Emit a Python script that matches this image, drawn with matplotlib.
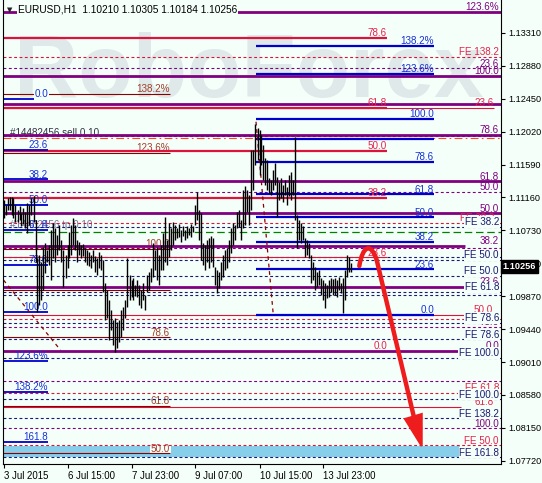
import numpy as np
import matplotlib.pyplot as plt
from matplotlib.patches import Polygon, PathPatch, Rectangle
from matplotlib.path import Path
from matplotlib.transforms import blended_transform_factory

plt.rcParams['font.family'] = ['Liberation Sans', 'DejaVu Sans']

# EURUSD H1 bars (high / low), 3 Jul 2015 .. 14 Jul 2015
bar_high = [
    1.1113, 1.1106, 1.1115, 1.1117, 1.1117, 1.1115, 1.1106, 1.1100, 1.1105, 1.1096,
    1.1102, 1.1097, 1.1109, 1.1106, 1.1115, 1.1118, 1.1087, 1.1037, 1.1041, 1.1032,
    1.1051, 1.1056, 1.1047, 1.1054, 1.1074, 1.1083, 1.1076, 1.1067, 1.1080, 1.1060,
    1.1047, 1.1041, 1.1054, 1.1071, 1.1080, 1.1089, 1.1080, 1.1060, 1.1058, 1.1054,
    1.1055, 1.1050, 1.1047, 1.1045, 1.1041, 1.1047, 1.1040, 1.1037, 1.1045, 1.1041,
    1.1034, 1.1004, 1.0995, 1.0982, 1.0969, 1.0956, 1.0958, 1.0953, 1.0956, 1.0969,
    1.0973, 1.0982, 1.1037, 1.1015, 1.1008, 1.1011, 1.1002, 1.1008, 1.1002, 1.0995,
    1.1004, 1.0989, 1.1015, 1.1019, 1.1024, 1.1056, 1.1047, 1.1051, 1.1041, 1.1054,
    1.1070, 1.1091, 1.1060, 1.1083, 1.1076, 1.1084, 1.1080, 1.1076, 1.1081, 1.1074,
    1.1079, 1.1074, 1.1079, 1.1076, 1.1081, 1.1079, 1.1106, 1.1123, 1.1100, 1.1096,
    1.1056, 1.1054, 1.1060, 1.1063, 1.1066, 1.1063, 1.1025, 1.1021, 1.1019, 1.1032,
    1.1041, 1.1047, 1.1050, 1.1060, 1.1076, 1.1083, 1.1080, 1.1097, 1.1100, 1.1087,
    1.1126, 1.1131, 1.1126, 1.1119, 1.1178, 1.1178, 1.1212, 1.1207, 1.1204, 1.1198,
    1.1185, 1.1167, 1.1165, 1.1141, 1.1139, 1.1152, 1.1161, 1.1143, 1.1136, 1.1141,
    1.1132, 1.1139, 1.1130, 1.1145, 1.1149, 1.1139, 1.1195, 1.1093, 1.1087, 1.1083,
    1.1079, 1.1063, 1.1060, 1.1056, 1.1041, 1.1032, 1.1025, 1.1019, 1.1021, 1.1011,
    1.1008, 1.1004, 1.1002, 1.1008, 1.1011, 1.1010, 1.1011, 1.1008, 1.1012, 1.1004,
    1.1011, 1.1021, 1.1041, 1.1038, 1.10305,
]
bar_low = [
    1.1089, 1.1093, 1.1100, 1.1100, 1.1093, 1.1089, 1.1084, 1.1084, 1.1087, 1.1079,
    1.1081, 1.1076, 1.1070, 1.1080, 1.1093, 1.1084, 1.1032, 1.0966, 1.0976, 1.0982,
    1.0995, 1.1017, 1.1032, 1.1028, 1.1008, 1.1037, 1.1032, 1.1041, 1.1047, 1.1032,
    1.0999, 1.1011, 1.1024, 1.1037, 1.1041, 1.1054, 1.1047, 1.1032, 1.1041, 1.1037,
    1.1040, 1.1032, 1.1028, 1.1026, 1.1024, 1.1032, 1.1019, 1.1015, 1.1024, 1.1021,
    1.0993, 1.0956, 1.0958, 1.0930, 1.0943, 1.0923, 1.0914, 1.0919, 1.0927, 1.0934,
    1.0943, 1.0958, 1.0973, 1.0982, 1.0986, 1.0982, 1.0987, 1.0986, 1.0976, 1.0972,
    1.0982, 1.0969, 1.0993, 1.0995, 1.1006, 1.1012, 1.1021, 1.1008, 1.1002, 1.1021,
    1.1021, 1.1032, 1.1028, 1.1038, 1.1047, 1.1054, 1.1060, 1.1063, 1.1064, 1.1058,
    1.1066, 1.1060, 1.1063, 1.1067, 1.1064, 1.1071, 1.1080, 1.1087, 1.1060, 1.1034,
    1.1028, 1.1021, 1.1032, 1.1024, 1.1032, 1.1025, 1.1002, 1.0991, 1.0998, 1.1008,
    1.1012, 1.1021, 1.1024, 1.1032, 1.1043, 1.1054, 1.1060, 1.1076, 1.1077, 1.1060,
    1.1076, 1.1080, 1.1097, 1.1080, 1.1100, 1.1126, 1.1158, 1.1165, 1.1145, 1.1158,
    1.1139, 1.1132, 1.1126, 1.1122, 1.1119, 1.1126, 1.1132, 1.1091, 1.1113, 1.1115,
    1.1110, 1.1119, 1.1106, 1.1118, 1.1113, 1.1119, 1.1087, 1.1050, 1.1060, 1.1057,
    1.1060, 1.1038, 1.1041, 1.1037, 1.1004, 1.1008, 1.0995, 1.0999, 1.1002, 1.0989,
    1.0982, 1.0972, 1.0985, 1.0986, 1.0993, 1.0989, 1.0989, 1.0986, 1.0995, 1.0991,
    1.0965, 1.0982, 1.1012, 1.1019, 1.10184,
]
last_close = 1.10256
title = "EURUSD,H1  1.10210 1.10305 1.10184 1.10256"

price_ticks = [1.13310, 1.12880, 1.12450, 1.12020, 1.11590, 1.11160, 1.10730,
               1.10300, 1.09870, 1.09440, 1.09010, 1.08580, 1.08150, 1.07720]
time_ticks = [0, 32, 64, 96, 128, 160]
time_labels = ["3 Jul 2015", "6 Jul 15:00", "7 Jul 23:00", "9 Jul 07:00",
               "10 Jul 15:00", "13 Jul 23:00"]

# fibonacci tools: levels, labels and the bar range they span
purple_levels = [1.13584, 1.12748, 1.12382, 1.11973, 1.11369, 1.10953, 1.10526, 1.09994, 1.09157]
purple_labels = ["123.6%", "100.0", "", "78.6", "61.8", "50.0", "38.2", "23.6", "0.0"]
purple_ends = [248.75, 248.75, 248.75, 248.75, 248.75, 248.75, 230.75, 230.75, 228.25]

purple_dash_levels = [1.12848, 1.11960, 1.11228, 1.10496, 1.09471, 1.08765, 1.08143]
purple_dash_labels = ["23.6", "", "50.0", "", "78.6", "", "100.0"]

crimson_levels = [1.13248, 1.12333, 1.11767, 1.11157, 1.10378, 1.09157]
crimson_labels = ["78.6", "61.8", "50.0", "38.2", "23.6", "0.0"]
crimson_thick = [True, True, True, True, False, False]

red_thin_levels = [1.12333, 1.09624, 1.08418]
red_thin_labels = ["23.6", "50.0", "61.8"]
red_thin_ends = [245.25, 230.75, 228.75]
red_thin_label_x = [245.25, 244.75, 245.25]

red_dash_levels = [1.13000, 1.10823, 1.09572, 1.08608, 1.07921]
red_dash_labels = ["FE 138.2", "FE 38.2", "", "FE 61.8", "FE 50.0"]

navy_dash_levels = [1.10778, 1.10386, 1.10343, 1.10134, 1.09921, 1.09881, 1.09523,
                    1.09306, 1.09066, 1.08522, 1.08274, 1.07764]
navy_dash_labels = ["FE 38.2", "", "FE 50.0", "FE 50.0", "FE 61.8", "", "FE 78.6",
                    "FE 78.6", "FE 100.0", "FE 100.0", "FE 138.2", "FE 161.8"]

blue_levels = [1.13144, 1.12774, 1.12182, 1.11918, 1.11628, 1.11201, 1.10901, 1.10582, 1.10221, 1.09624]
blue_labels = ["138.2%", "123.6%", "100.0", "", "78.6", "61.8", "50.0", "38.2", "23.6", "0.0"]
blue_range = (126.25, 215.25)

blue_left_levels = [1.12447, 1.11784, 1.11397, 1.11062, 1.10735, 1.10277, 1.09670, 1.09023, 1.08621, 1.07964]
blue_left_labels = ["0.0", "23.6", "38.2", "50.0", "61.8", "78.6", "100.0", "123.6%", "138.2%", "161.8"]
blue_left_range = (-0.25, 22.25)

darkred_levels = [1.12509, 1.11741, 1.10490, 1.09951, 1.09332, 1.08441, 1.07816]
darkred_labels = ["138.2%", "123.6%", "100.0", "", "78.6", "61.8", "50.0"]
darkred_range = (-0.25, 83.25)

order_price = 1.11933
order_text = "#14482456 sell 0.10"
green_price = 1.10709
target_zone = (1.07772, 1.07916)

trend_a = ([0.0, 28.5], [1.10081, 1.09166])
trend_b = ([126.25, 134.9], [1.12150, 1.09624])

# forecast arrow (bar index, price)
arrow_hook = [(177.9, 1.10264), (179.6, 1.10530), (183.6, 1.10580), (186.6, 1.10343)]
arrow_end = (206.75, 1.08121)
arrow_head = [(209.1, 1.07912), (200.75, 1.08265), (209.1, 1.08330)]

BG = '#F5FFFA'
PURPLE = '#800080'
CRIMSON = '#DC143C'
BLUE = '#0000CD'
NAVY = '#191970'
DARKRED = '#8B0000'
XL, XR = -0.25, 248.75
FS = 7.1

fig = plt.figure(figsize=(5.42, 4.83), dpi=100, facecolor=BG)
ax = fig.add_axes([3 / 542, 19 / 483, 498 / 542, 464 / 483], facecolor=BG)
ax.set_xlim(XL, XR)
ax.set_ylim(1.07677, 1.13741)


def level(p, x0, x1, color, lw, ls='-', z=2):
    ax.plot([x0, x1], [p, p], color=color, lw=lw, ls=ls, zorder=z,
            solid_capstyle='butt', dash_capstyle='butt')


def label(p, x, text, color, box=False, z=3):
    if not text:
        return
    kw = {}
    if box:
        kw['bbox'] = dict(facecolor=BG, edgecolor='none', pad=0.4)
    ax.annotate(text, xy=(x, p), xytext=(0, 1.3), textcoords='offset points',
                ha='right', va='baseline', color=color, fontsize=FS, zorder=z, **kw)


DASH = (0, (2.6, 2.2))

# watermark
ax.text(14 / 542, 1 - 97 / 483, "RoboForex", transform=fig.transFigure, fontsize=64,
        fontweight='bold', color='#DFE9E9', ha='left', va='baseline', zorder=0.5)

# target zone
ax.add_patch(Rectangle((XL, target_zone[0]), 228.25 - XL, target_zone[1] - target_zone[0],
                       facecolor='#87CEEB', edgecolor='none', zorder=1))

for p in purple_dash_levels:
    level(p, XL, XR, PURPLE, 0.8, DASH)
for p in red_dash_levels:
    level(p, XL, XR, CRIMSON, 0.8, DASH)
for p in navy_dash_levels:
    level(p, XL, XR, NAVY, 0.8, DASH)
level(order_price, XL, XR, '#F05020', 0.8, (0, (7, 3, 1.5, 3)))
level(green_price, XL, XR, '#008000', 0.9, (0, (6, 3)))

for p, e in zip(red_thin_levels, red_thin_ends):
    level(p, XL, e, CRIMSON, 0.8)
for p in darkred_levels:
    level(p, darkred_range[0], darkred_range[1], DARKRED, 0.8)
for p, thick in zip(crimson_levels, crimson_thick):
    level(p, XL, 191.75, CRIMSON, 1.6 if thick else 0.8)
for p in blue_levels:
    level(p, blue_range[0], blue_range[1], BLUE, 1.6)
for p in blue_left_levels:
    level(p, blue_left_range[0], blue_left_range[1], BLUE, 1.3)
for p, e in zip(purple_levels, purple_ends):
    level(p, XL, e, PURPLE, 2.0)

for xs, ps in (trend_a, trend_b):
    ax.plot(xs, ps, color=DARKRED, lw=0.9, ls=(0, (3, 3)), zorder=2)

# level labels
for p, t in zip(purple_dash_levels, purple_dash_labels):
    label(p, 247.75, t, PURPLE)
for p, t in zip(purple_levels, purple_labels):
    label(p, 247.75, t, PURPLE)
for p, t in zip(crimson_levels, crimson_labels):
    label(p, 191.75, t, '#E8204A')
for p, t, x in zip(red_thin_levels, red_thin_labels, red_thin_label_x):
    label(p, x, t, '#E8204A')
for p, t in zip(red_dash_levels, red_dash_labels):
    label(p, 245.25 if t == "FE 38.2" else 247.75, t, '#E8204A')
for p, t in zip(blue_levels, blue_labels):
    label(p, blue_range[1], t, '#1530D8')
for p, t in zip(blue_left_levels, blue_left_labels):
    label(p, blue_left_range[1], t, '#1530D8', box=(t == "0.0"))
for p, t in zip(darkred_levels, darkred_labels):
    label(p, darkred_range[1], t, '#A0402A', box=(t == "50.0"), z=1.5)
for p, t in zip(navy_dash_levels, navy_dash_labels):
    label(p, 247.75, t, NAVY, box=True)

ax.text(3.25, order_price + 0.0003, order_text, fontsize=FS, color='#303040',
        ha='left', va='baseline', zorder=1.8)
ax.text(3.25, 1.10760, "#14482456 tp 0.10", fontsize=FS, color='#505080',
        ha='left', va='baseline', zorder=1.8, alpha=0.8)

# price bars
idx = np.arange(len(bar_high))
ax.vlines(idx, bar_low, bar_high, color='black', lw=1.0, zorder=4)

# forecast arrow
verts = arrow_hook + [arrow_end]
codes = [Path.MOVETO, Path.CURVE4, Path.CURVE4, Path.CURVE4, Path.LINETO]
ax.add_patch(PathPatch(Path(verts, codes), fill=False, edgecolor='#EE1C1C', lw=3.2,
                       capstyle='round', joinstyle='round', zorder=6))
ax.add_patch(Polygon(arrow_head, closed=True, facecolor='#EE1C1C', edgecolor='#EE1C1C',
                     lw=1.5, zorder=6))

# title
ax.text(4 / 498, 1 - 10 / 464, "\u25bc", transform=ax.transAxes, fontsize=5,
        family='DejaVu Sans', va='center', ha='left', color='#202020', zorder=7)
ax.text(15 / 498, 1 - 10 / 464, title, transform=ax.transAxes, fontsize=7.3,
        va='center', ha='left', color='black', zorder=7,
        bbox=dict(facecolor=BG, edgecolor='none', pad=0.6))

# axes
for s in ('left', 'bottom', 'right'):
    ax.spines[s].set_color('black')
    ax.spines[s].set_linewidth(0.8)
ax.spines['top'].set_visible(False)
ax.yaxis.tick_right()
ax.set_yticks(price_ticks)
ax.set_yticklabels([f"{p:.5f}" for p in price_ticks])
ax.tick_params(axis='y', direction='out', length=3, width=0.8, pad=2, labelsize=6.6)
ax.set_xticks(time_ticks)
ax.set_xticklabels(time_labels, ha='left')
ax.tick_params(axis='x', direction='out', length=3, width=0.8, pad=2, labelsize=6.9)

tr = blended_transform_factory(ax.transAxes, ax.transData)
ax.text(1.003, last_close, "1.10256", transform=tr, fontsize=6.6, color='white',
        fontweight='bold', ha='left', va='center', zorder=10, clip_on=False,
        bbox=dict(facecolor='black', edgecolor='black', pad=1.3))

fig.savefig("out.png", dpi=100, facecolor=BG)
